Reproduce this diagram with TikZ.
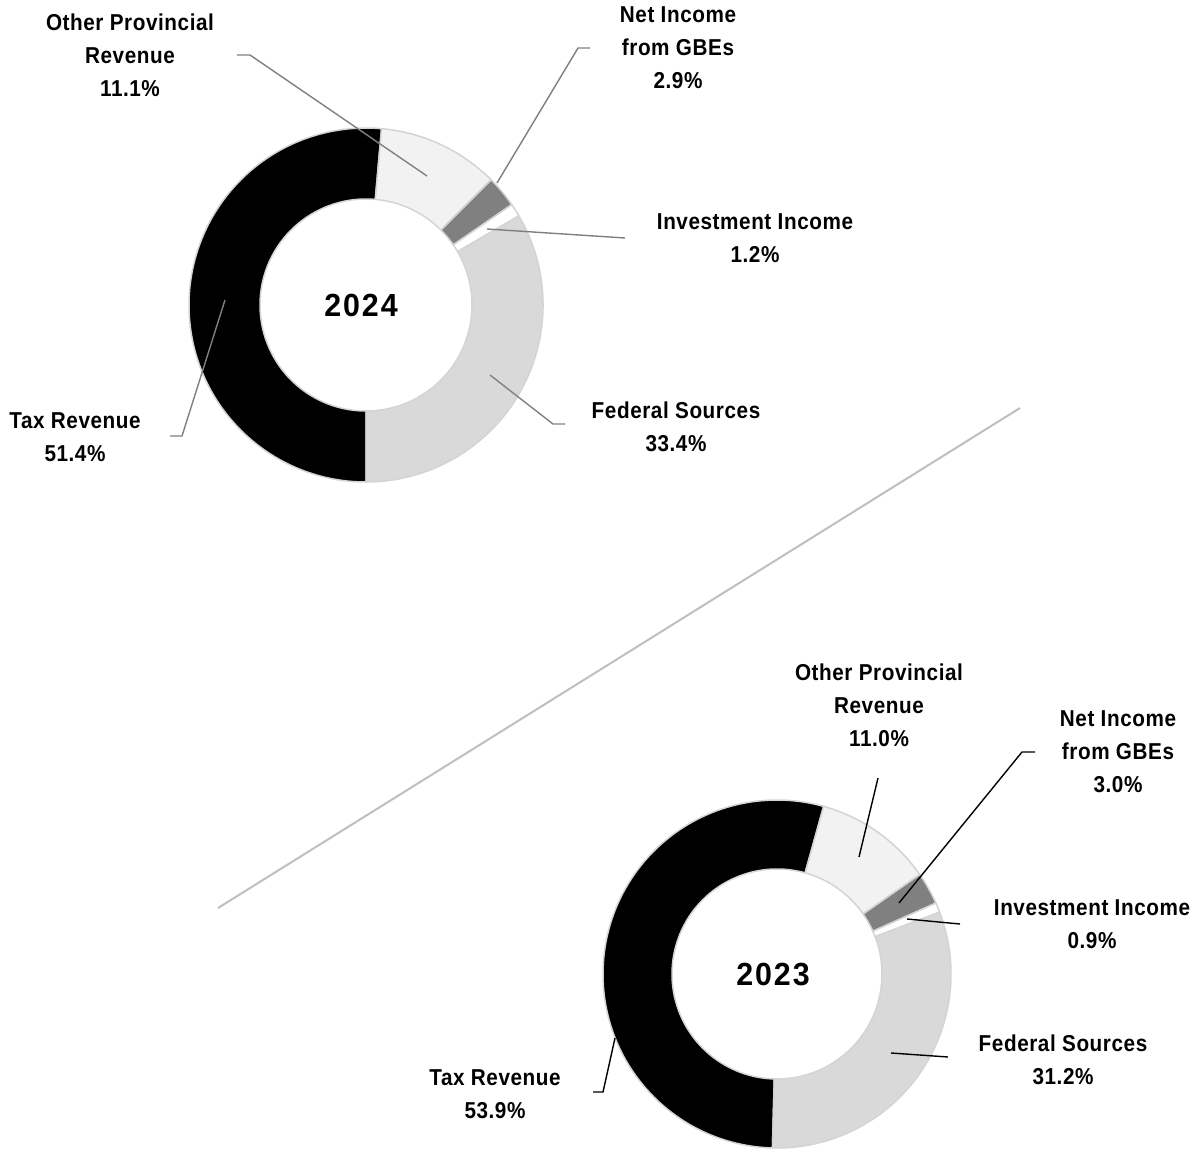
\documentclass[tikz,border=0pt]{standalone}
\usepackage{fontspec}
\setmainfont{Liberation Sans}[FakeStretch=0.9, LetterSpace=2.5]
\newfontfamily\yearfont{Liberation Sans}[FakeStretch=0.95, LetterSpace=6]
\definecolor{segborder}{HTML}{D4D4D4}
\definecolor{otherfill}{HTML}{F2F2F2}
\definecolor{netfill}{HTML}{808080}
\definecolor{fedfill}{HTML}{D9D9D9}
\definecolor{leadgray}{HTML}{808080}
\definecolor{sepgray}{HTML}{BFBFBF}
\newcommand\donutseg[4]{%
  \path[segstyle, fill=#4] ([shift={(#2:\Ro)}]#1) arc[start angle=#2, end angle=#3, radius=\Ro]
    -- ([shift={(#3:\Ri)}]#1) arc[start angle=#3, end angle=#2, radius=\Ri] -- cycle;}
\begin{document}
\begin{tikzpicture}[x=1pt,y=1pt,
  segstyle/.style={draw=segborder, line width=1.5pt, line join=round},
  lbl/.style={align=center, inner sep=0pt, font=\bfseries\fontsize{23}{33}\selectfont},
  yearlbl/.style={inner sep=0pt, font=\yearfont\bfseries\fontsize{32}{36}\selectfont},
  lead24/.style={draw=leadgray, line width=1.4pt},
  lead23/.style={draw=black, line width=1.4pt},
  sepline/.style={draw=sepgray, line width=2pt}]
\useasboundingbox (0,0) rectangle (1200,-1153);
\fill[white] (0,0) rectangle (1200,-1153);

% separator
\coordinate (s1) at (218,-908);
\coordinate (s2) at (1020,-408);
\draw[sepline] (s1) -- (s2);

% ---------- 2024 ----------
\coordinate (c1) at (366,-305);
\def\Ro{177}\def\Ri{106}
\donutseg{c1}{270}{84.96}{black}
\donutseg{c1}{84.96}{45.0}{otherfill}
\donutseg{c1}{45.0}{34.56}{netfill}
\donutseg{c1}{34.56}{30.24}{white}
\donutseg{c1}{30.24}{-90}{fedfill}
\node[yearlbl] (y24) at (361,-305) {2024};

\node[lbl] (o24) at (130,-55) {Other Provincial\\Revenue\\11.1\%};
\node[lbl] (n24) at (678,-48) {Net Income\\from GBEs\\2.9\%};
\node[lbl] (i24) at (755,-238) {Investment Income\\1.2\%};
\node[lbl] (f24) at (676,-427) {Federal Sources\\33.4\%};
\node[lbl] (t24) at (75,-437) {Tax Revenue\\51.4\%};

\coordinate (o24a) at (237,-55); \coordinate (o24b) at (250,-55); \coordinate (o24c) at (427,-176);
\coordinate (n24a) at (590,-48); \coordinate (n24b) at (578,-48); \coordinate (n24c) at (497,-183);
\coordinate (i24a) at (625,-238); \coordinate (i24c) at (487,-229);
\coordinate (f24a) at (565,-424); \coordinate (f24b) at (553,-424); \coordinate (f24c) at (490,-375);
\coordinate (t24a) at (170,-436); \coordinate (t24b) at (182,-436); \coordinate (t24c) at (225,-300);
\draw[lead24] (o24a) -- (o24b) -- (o24c);
\draw[lead24] (n24a) -- (n24b) -- (n24c);
\draw[lead24] (i24a) -- (i24c);
\draw[lead24] (f24a) -- (f24b) -- (f24c);
\draw[lead24] (t24a) -- (t24b) -- (t24c);

% ---------- 2023 ----------
\coordinate (c2) at (777,-974);
\def\Ro{174}\def\Ri{105}
\donutseg{c2}{268.5}{74.46}{black}
\donutseg{c2}{74.46}{34.86}{otherfill}
\donutseg{c2}{34.86}{24.06}{netfill}
\donutseg{c2}{24.06}{20.82}{white}
\donutseg{c2}{20.82}{-91.5}{fedfill}
\node[yearlbl] (y23) at (773,-974) {2023};

\node[lbl] (o23) at (879,-705) {Other Provincial\\Revenue\\11.0\%};
\node[lbl] (n23) at (1118,-752) {Net Income\\from GBEs\\3.0\%};
\node[lbl] (i23) at (1092,-924) {Investment Income\\0.9\%};
\node[lbl] (f23) at (1063,-1060) {Federal Sources\\31.2\%};
\node[lbl] (t23) at (495,-1094) {Tax Revenue\\53.9\%};

\coordinate (o23a) at (878,-778); \coordinate (o23c) at (859,-857);
\coordinate (n23a) at (1035,-752); \coordinate (n23b) at (1022,-752); \coordinate (n23c) at (899,-903);
\coordinate (i23a) at (960,-924); \coordinate (i23c) at (907,-919);
\coordinate (f23a) at (948,-1057); \coordinate (f23c) at (891,-1053);
\coordinate (t23a) at (593,-1092); \coordinate (t23b) at (603,-1092); \coordinate (t23c) at (615,-1038);
\draw[lead23] (o23a) -- (o23c);
\draw[lead23] (n23a) -- (n23b) -- (n23c);
\draw[lead23] (i23a) -- (i23c);
\draw[lead23] (f23a) -- (f23c);
\draw[lead23] (t23a) -- (t23b) -- (t23c);
\end{tikzpicture}
\end{document}
